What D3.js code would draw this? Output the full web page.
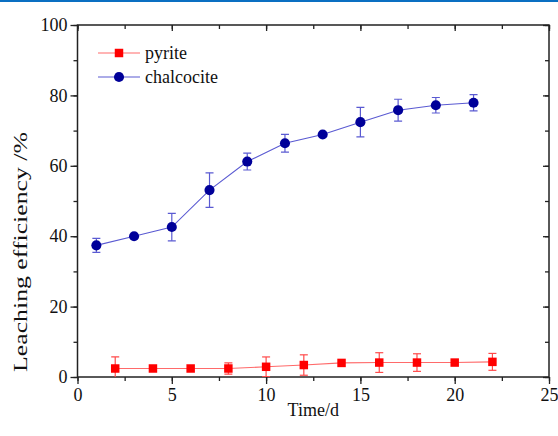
<!DOCTYPE html>
<html><head><meta charset="utf-8">
<script src="https://cdn.jsdelivr.net/npm/d3@7"></script>
<style>body{margin:0;background:#fff}svg{display:block}text{font-family:"Liberation Serif","Times New Roman",serif;fill:#111}</style>
</head><body>
<script>
const daysChalcocite = [1,3,5,7,9,11,13,15,17,19,21];
const chalcocite = [37.4,40.0,42.6,53.1,61.2,66.4,68.9,72.4,75.8,77.2,77.9];
const chalcociteErr = [2.0,0,3.9,4.9,2.4,2.5,0,4.2,3.1,2.2,2.3];
const daysPyrite = [2,4,6,8,10,12,14,16,18,20,22];
const pyrite = [2.4,2.4,2.4,2.4,2.9,3.4,4.0,4.1,4.1,4.1,4.3];
const pyriteErr = [3.3,0,0,1.6,2.8,2.9,0,2.8,2.5,0,2.4];
const xTicks = [0,5,10,15,20,25];
const yTicks = [0,20,40,60,80,100];
const seriesNames = ["pyrite","chalcocite"];

const W=558,H=436;
const L=77.5,R=549,T=25,B=377;
const svg=d3.select("body").append("svg").attr("width",W).attr("height",H);
const x=d3.scaleLinear().domain([0,25]).range([L,R]);
const y=d3.scaleLinear().domain([0,100]).range([B,T]);

svg.append("rect").attr("x",0).attr("y",0).attr("width",W).attr("height",2).attr("fill","#0a6fc2");

const axisColor="#222";
const xMinor=d3.range(0,25.01,2.5), yMinor=d3.range(0,100.01,10);
const g=svg.append("g");
g.append("g").attr("transform",`translate(0,${B})`).call(d3.axisBottom(x).tickValues(xMinor).tickSize(4).tickFormat("")).call(a=>a.select(".domain").remove());
g.append("g").attr("transform",`translate(0,${B})`).call(d3.axisBottom(x).tickValues(xTicks).tickSize(7).tickPadding(4).tickFormat(d3.format("d"))).call(a=>a.select(".domain").remove());
g.append("g").attr("transform",`translate(0,${T})`).call(d3.axisBottom(x).tickValues(xMinor).tickSize(4).tickFormat("")).call(a=>a.select(".domain").remove());
g.append("g").attr("transform",`translate(0,${T})`).call(d3.axisBottom(x).tickValues(xTicks).tickSize(6).tickFormat("")).call(a=>a.select(".domain").remove());
g.append("g").attr("transform",`translate(${L},0)`).call(d3.axisLeft(y).tickValues(yMinor).tickSize(4).tickFormat("")).call(a=>a.select(".domain").remove());
g.append("g").attr("transform",`translate(${L},0)`).call(d3.axisLeft(y).tickValues(yTicks).tickSize(7).tickPadding(3).tickFormat(d3.format("d"))).call(a=>a.select(".domain").remove());
g.append("g").attr("transform",`translate(${R},0)`).call(d3.axisLeft(y).tickValues(yMinor).tickSize(4).tickFormat("")).call(a=>a.select(".domain").remove());
g.append("g").attr("transform",`translate(${R},0)`).call(d3.axisLeft(y).tickValues(yTicks).tickSize(6).tickFormat("")).call(a=>a.select(".domain").remove());
g.selectAll(".tick line").attr("stroke",axisColor).attr("stroke-width",1.3);
g.selectAll(".tick text").attr("font-size",18).attr("font-family","Liberation Serif").attr("fill","#111");
svg.append("rect").attr("x",L).attr("y",T).attr("width",R-L).attr("height",B-T).attr("fill","none").attr("stroke",axisColor).attr("stroke-width",1.5);

svg.append("clipPath").attr("id","clip").append("rect").attr("x",L).attr("y",T).attr("width",R-L).attr("height",B-T);
const plot=svg.append("g").attr("clip-path","url(#clip)");

function drawSeries(days,vals,errs,lineCol,errCol,markCol,shape){
  const pts=days.map((d,i)=>({d,v:vals[i],e:errs[i]}));
  plot.append("path").datum(pts).attr("fill","none").attr("stroke",lineCol).attr("stroke-width",1.1)
    .attr("d",d3.line().x(p=>x(p.d)).y(p=>y(p.v)));
  const eb=plot.append("g").attr("stroke",errCol).attr("stroke-width",1.2);
  pts.filter(p=>p.e>0).forEach(p=>{
    eb.append("line").attr("x1",x(p.d)).attr("x2",x(p.d)).attr("y1",y(p.v+p.e)).attr("y2",y(p.v-p.e));
    [p.v+p.e,p.v-p.e].forEach(v=>eb.append("line").attr("x1",x(p.d)-4).attr("x2",x(p.d)+4).attr("y1",y(v)).attr("y2",y(v)));
  });
  const sym=d3.symbol().type(shape).size(shape===d3.symbolSquare?72:80);
  plot.selectAll(null).data(pts).enter().append("path").attr("d",sym)
    .attr("transform",p=>`translate(${x(p.d)},${y(p.v)})`).attr("fill",markCol);
}
drawSeries(daysPyrite,pyrite,pyriteErr,"#ff6a6a","#ff4a4a","#ff0000",d3.symbolSquare);
drawSeries(daysChalcocite,chalcocite,chalcociteErr,"#5a5ad2","#5a5ad2","#000099",d3.symbolCircle);

const leg=[{n:seriesNames[0],line:"#ff6a6a",m:"#ff0000",s:d3.symbolSquare,sz:72,y:53},{n:seriesNames[1],line:"#5a5ad2",m:"#000099",s:d3.symbolCircle,sz:80,y:77}];
leg.forEach(l=>{
  svg.append("line").attr("x1",98).attr("x2",140).attr("y1",l.y).attr("y2",l.y).attr("stroke",l.line).attr("stroke-width",1.1);
  svg.append("path").attr("d",d3.symbol().type(l.s).size(l.sz)).attr("transform",`translate(119,${l.y})`).attr("fill",l.m);
  svg.append("text").attr("x",145).attr("y",l.y+6).attr("font-size",18).text(l.n);
});

svg.append("text").attr("x",(L+R)/2).attr("y",416).attr("text-anchor","middle").attr("font-size",18).text("Time/d");
svg.append("text").attr("transform","translate(27,252) rotate(-90)").attr("text-anchor","middle").attr("font-size",19)
  .attr("textLength",240).attr("lengthAdjust","spacingAndGlyphs").text("Leaching efficiency /%");
</script>
</body></html>
